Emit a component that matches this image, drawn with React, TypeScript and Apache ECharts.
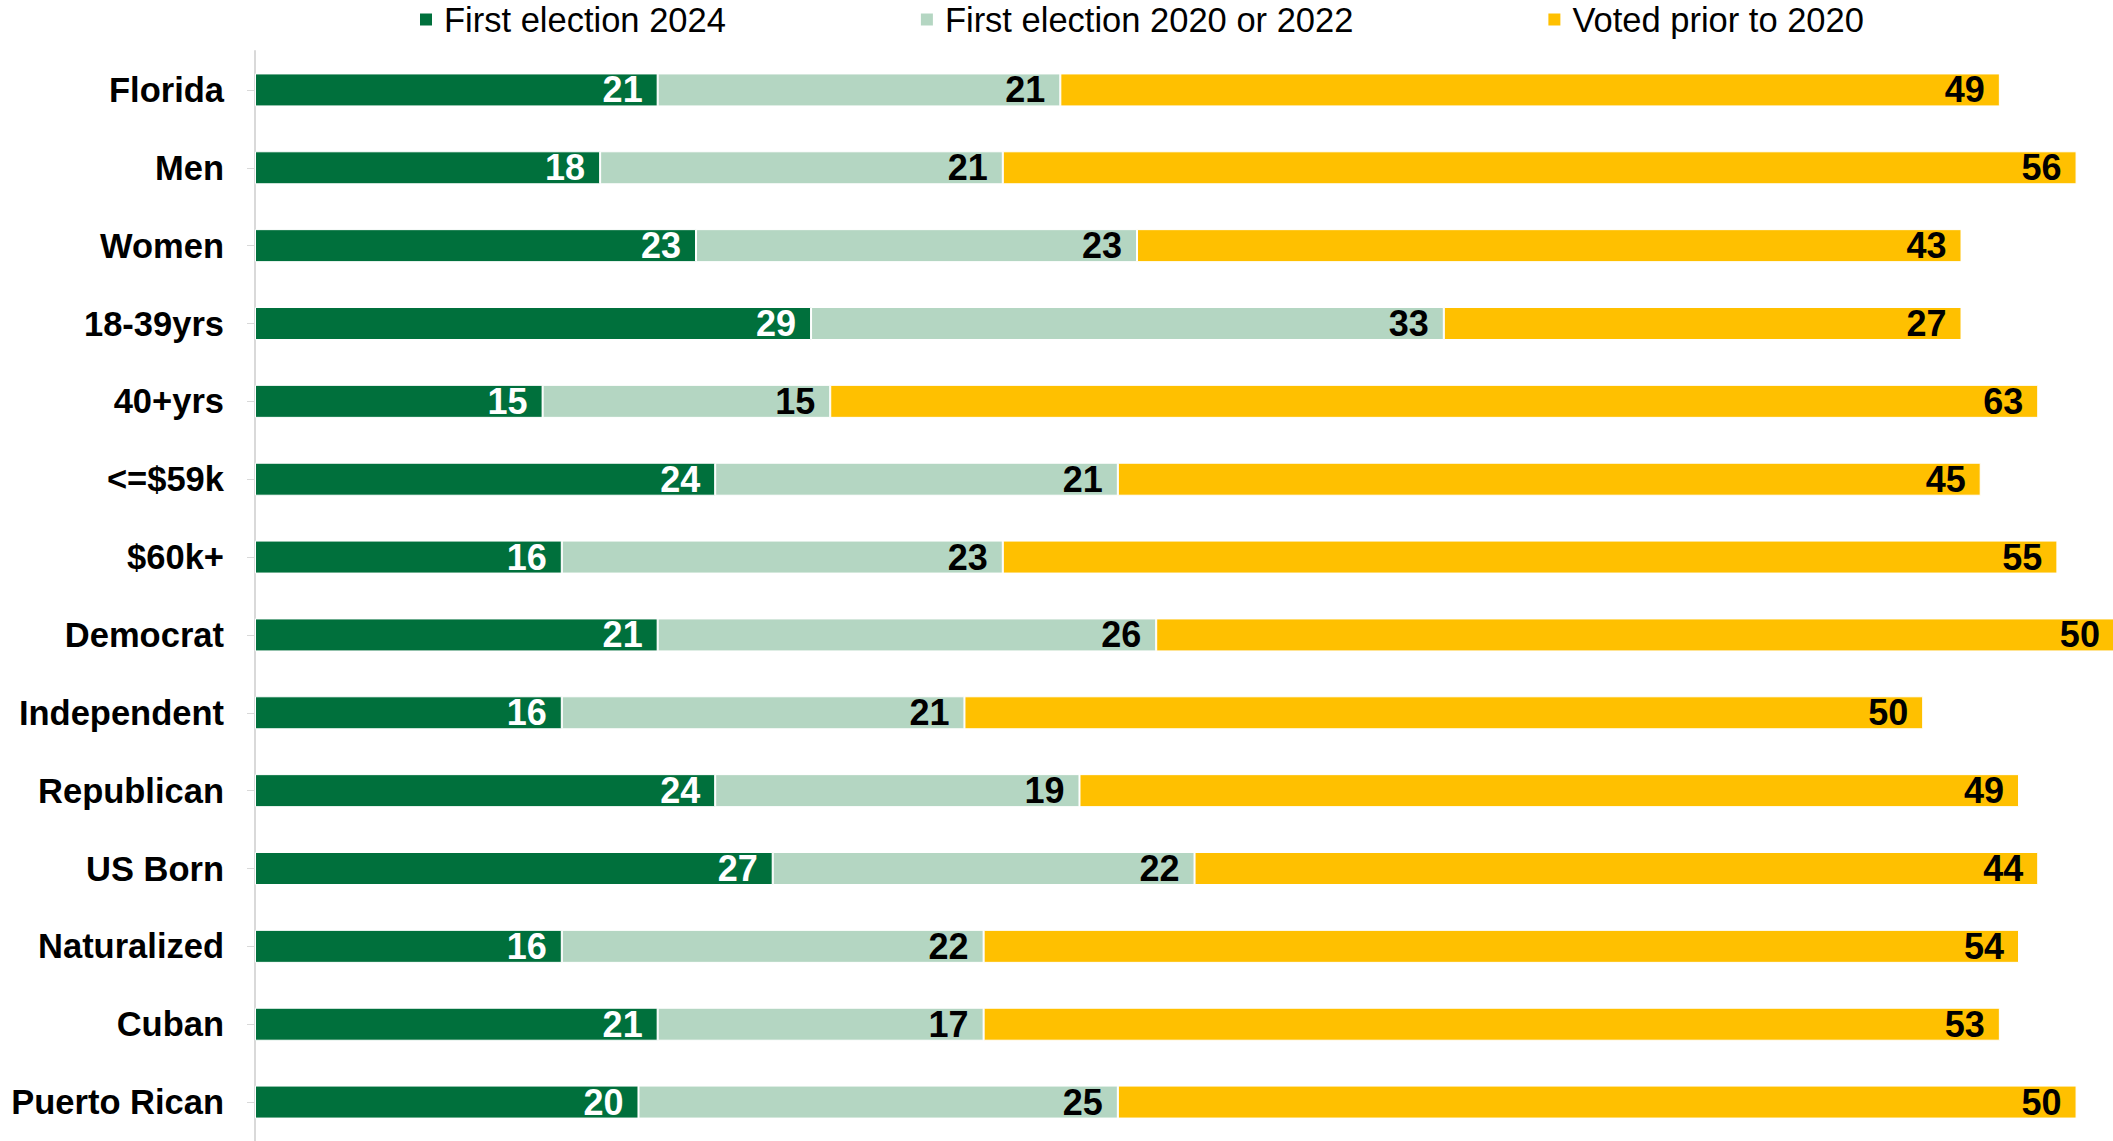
import React, { useEffect, useRef } from "react";
import * as echarts from "echarts";

const categories = [
  "Florida", "Men", "Women", "18-39yrs", "40+yrs", "<=$59k", "$60k+",
  "Democrat", "Independent", "Republican", "US Born", "Naturalized", "Cuban", "Puerto Rican",
];
const seriesNames = ["First election 2024", "First election 2020 or 2022", "Voted prior to 2020"];
const first2024 = [21, 18, 23, 29, 15, 24, 16, 21, 16, 24, 27, 16, 21, 20];
const first2020or2022 = [21, 21, 23, 33, 15, 21, 23, 26, 21, 19, 22, 22, 17, 25];
const votedPrior2020 = [49, 56, 43, 27, 63, 45, 55, 50, 50, 49, 44, 54, 53, 50];

const colors = ["#00703c", "#b4d6c2", "#ffc000"];
const labelColors = ["#ffffff", "#000000", "#000000"];
const FONT = "'Liberation Sans', Arial, sans-serif";

export default function App() {
  const ref = useRef<HTMLDivElement>(null);
  useEffect(() => {
    if (!ref.current) return;
    const chart = echarts.init(ref.current, undefined, { renderer: "svg" });
    const datas = [first2024, first2020or2022, votedPrior2020];
    chart.setOption({
      animation: false,
      backgroundColor: "#ffffff",
      textStyle: { fontFamily: FONT },
      legend: {
        top: -3,
        left: 413,
        itemGap: 193,
        itemWidth: 14,
        itemHeight: 14,
        icon: "rect",
        data: seriesNames,
        textStyle: { fontSize: 34.5, color: "#000", fontFamily: FONT, padding: [0, 0, 0, 6] },
      },
      grid: { left: 255, top: 51, right: 0, height: 1093, containLabel: false },
      xAxis: {
        type: "value",
        min: 0,
        max: 96.9,
        show: false,
      },
      yAxis: {
        type: "category",
        inverse: true,
        data: categories,
        axisLine: { show: true, lineStyle: { color: "#d9d9d9", width: 2 } },
        axisTick: { show: true, length: 8, alignWithLabel: true, lineStyle: { color: "#d9d9d9", width: 1 } },
        axisLabel: {
          margin: 31,
          fontSize: 34.5,
          fontWeight: "bold",
          color: "#000",
          fontFamily: FONT,
        },
      },
      series: seriesNames.map((name, i) => ({
        name,
        type: "bar",
        stack: "total",
        barWidth: 33,
        clip: false,
        data: datas[i],
        itemStyle: { color: colors[i], borderColor: "#ffffff", borderWidth: 1 },
        label: {
          show: true,
          position: "insideRight",
          distance: 15,
          fontSize: 36,
          fontWeight: "bold",
          color: labelColors[i],
          fontFamily: FONT,
        },
      })),
    });
    return () => chart.dispose();
  }, []);
  return (
    <div
      ref={ref}
      style={{ position: "absolute", left: 0, top: 0, width: 2113, height: 1141 }}
    />
  );
}
